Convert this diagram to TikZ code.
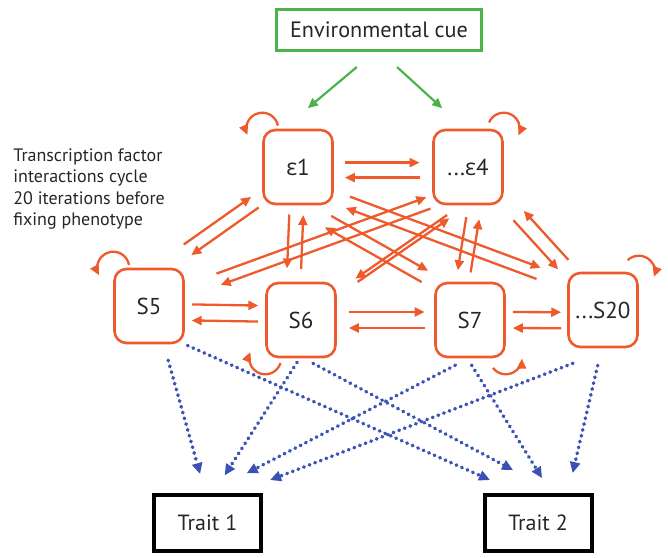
\documentclass[tikz,border=0pt]{standalone}
\usepackage{fontspec}
\setmainfont{PT Sans}
\newfontfamily\greekfont{Open Sans}
\usetikzlibrary{arrows.meta,calc}

\definecolor{tforange}{RGB}{238,90,44}
\definecolor{cuegreen}{RGB}{76,178,74}
\definecolor{traitblue}{RGB}{58,82,182}

\newcommand\epsl{{\greekfont ε}}

\tikzset{
  gene/.style={draw=tforange, line width=1.3pt, rounded corners=6pt,
    minimum width=34.5pt, minimum height=37pt, inner sep=1pt, text=black!85,
    font=\fontsize{11.5}{13}\selectfont},
  trait/.style={draw=black, line width=2pt, minimum width=53.5pt,
    minimum height=28pt, text=black!85, font=\fontsize{11}{13}\selectfont},
  cue/.style={draw=cuegreen, line width=1.5pt, minimum width=102.5pt,
    minimum height=20.5pt, text=black!85, font=\fontsize{11.1}{13}\selectfont},
  note/.style={anchor=west, align=left, inner sep=0pt, text=black!85,
    font=\fontsize{9}{10.8}\selectfont},
  flow/.style={tforange, line width=1.15pt, -{Triangle[length=5pt,width=4.5pt]}},
  cueflow/.style={cuegreen, line width=1.1pt, -{Triangle[length=5pt,width=4.5pt]}},
  effect/.style={traitblue, line width=1.8pt, line cap=round,
    dash pattern=on 0.3pt off 2.7pt, -{Triangle[length=5.5pt,width=5pt]}},
}

% two opposite arrows side by side: from, to, side offset, gap at from, gap at to
\newcommand\twoway[5]{%
  \draw[flow, shorten <=#4 pt, shorten >=#5 pt]
    ($(#1)!#3 pt!90:(#2)$) -- ($(#2)!#3 pt!-90:(#1)$);
  \draw[flow, shorten <=#5 pt, shorten >=#4 pt]
    ($(#2)!#3 pt!90:(#1)$) -- ($(#1)!#3 pt!-90:(#2)$);
}
% a factor acting on itself: corner, start angle, end angle
\newcommand\selfloop[3]{%
  \draw[flow] (#1) ++(#2:8pt) arc[start angle=#2, end angle=#3, radius=8pt];
}

\begin{document}
\begin{tikzpicture}[x=0.5pt, y=0.5pt]
\useasboundingbox (0,0) rectangle (668,557);

% cue, factors and traits
\node[cue] (cue) at (379,527) {Environmental cue};
\node[gene] (e1) at (298,390) {\epsl1};
\node[gene] (e4) at (468,390) {...\epsl4};
\node[gene] (S5) at (149,251) {S5};
\node[gene] (S6) at (301,237) {S6};
\node[gene] (S7) at (470,237) {S7};
\node[gene] (S20) at (603,247) {...S20};
\node[trait] (T1) at (207.5,34) {Trait 1};
\node[trait] (T2) at (538,34) {Trait 2};
\node[note] (cycle) at (13,368) {Transcription factor\\interactions cycle\\20 iterations before\\fixing phenotype};

% the cue reaches the epsilon factors
\draw[cueflow, shorten <=11.7pt, shorten >=16pt] (cue.-101) -- (e1.111);
\draw[cueflow, shorten <=11.2pt, shorten >=15.2pt] (cue.-86) -- (e4.95);

% factor interactions, one arrow each way
\foreach \a/\b/\o/\g/\h in {
    e1.-5/e4.185/3.75/5.5/6.25,
    S5.-10/S6.170/4/3.5/3.5,
    S6.east/S7.west/4/6/4.75,
    S7.east/S20.196/4/3.5/3,
    S5.71/e1.220/3.25/15.5/4.5,
    e1.-92/S6.101/-3.5/4.75/6.5,
    e4.-80/S7.101/-3.25/6.5/5.25,
    e4.-42/S20.131/-3.5/11/4.75,
    S5.22/e4.224/3/18/2,
    e1.-88/S7.north west/3.25/16.5/5.35,
    e1.-40/S20.144/3/7.5/15.25,
    S6.36/e4.-95/-1/12/10} {
  \twoway{\a}{\b}{\o}{\g}{\h}
}

% self regulation
\foreach \c/\s/\e in {e1.north west/11/203, e4.north east/157/-25,
    S5.north west/10/208, S6.south west/-17/-203,
    S7.south east/217/359, S20.north east/134/-19} {
  \selfloop{\c}{\s}{\e}
}

% phenotype
\foreach \a/\b/\g/\h in {
    S5.-69/T1.94/8.3/9.85, S5.south east/T2.122/1.5/16,
    S6.-92/T1.79/2.35/10.5, S6.-86/T2.59/5.3/24.35,
    S7.-92/T1.88/7.5/21.5, S7.-94/T2.66/4/8.8,
    S20.-77/T1.46/20.85/18, S20.-92/T2.45/8.75/10.25}
  \draw[effect, shorten <=\g pt, shorten >=\h pt] (\a) -- (\b);
\end{tikzpicture}
\end{document}
